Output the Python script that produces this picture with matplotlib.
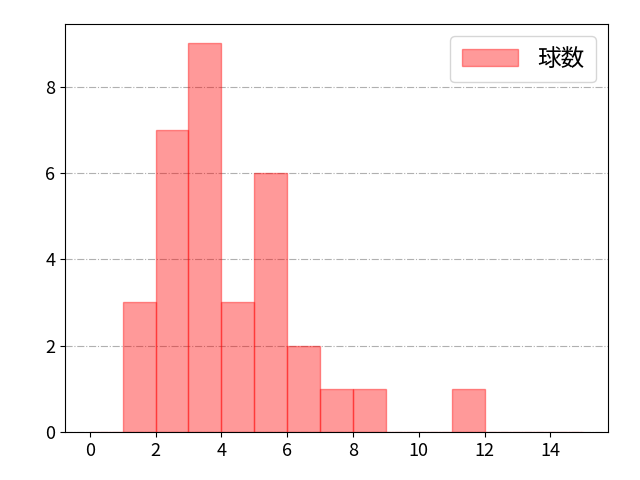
import matplotlib
matplotlib.use("Agg")
import matplotlib.pyplot as plt
import numpy as np

plt.rcParams['font.family'] = ['Noto Sans CJK JP', 'DejaVu Sans']

# bin edges and counts
bin_edges = list(range(0, 16))
counts = [0, 3, 7, 9, 3, 6, 2, 1, 1, 0, 0, 1, 0, 0, 0]
label = '球数'

fig, ax = plt.subplots(figsize=(6.4, 4.8), dpi=100)
ax.hist(bin_edges[:-1], bins=bin_edges, weights=counts,
        color='red', alpha=0.4, edgecolor='red', label=label)
ax.grid(axis='y', linestyle='-.', color='#b0b0b0')
ax.set_axisbelow(True)
ax.set_xticks(np.arange(0, 15, 2))
ax.legend(loc='upper right', fontsize=17, handlelength=2.4, borderpad=0.5)
ax.tick_params(labelsize=13)
fig.subplots_adjust(left=0.1016, right=0.95, top=0.95, bottom=0.1)
fig.savefig('out.png')
